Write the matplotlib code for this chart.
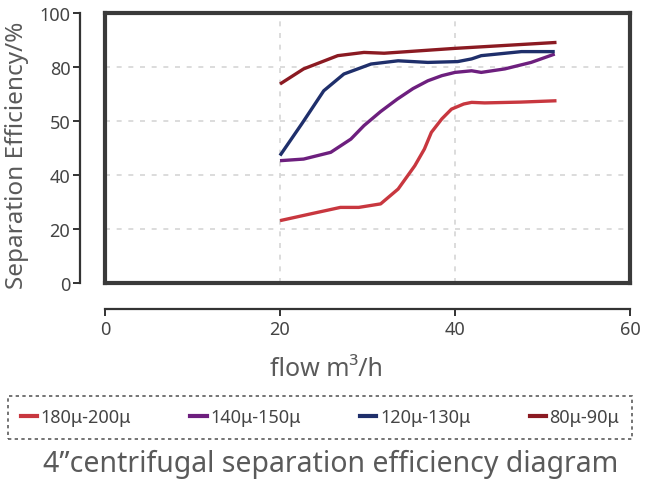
import matplotlib.pyplot as plt
from matplotlib.lines import Line2D

plt.rcParams['font.family'] = ['Noto Sans', 'DejaVu Sans']

# data
flow_red = [20, 23.5, 26.9, 29, 31.5, 33.5, 35.4, 36.5, 37.3, 38.5, 39.6, 41.0, 41.9, 43.4, 47.5, 51.6]
eff_red = [23.1, 25.6, 28.0, 28.0, 29.3, 34.8, 43.4, 49.6, 55.8, 60.8, 64.4, 66.3, 66.9, 66.7, 67.0, 67.5]

flow_purple = [20, 22.7, 25.8, 28.1, 29.6, 31.5, 33.4, 35.2, 36.9, 38.5, 40, 41.9, 43, 45.7, 48.7, 51.4]
eff_purple = [45.3, 45.9, 48.4, 53.3, 58.3, 63.5, 68.1, 72.0, 74.9, 76.8, 78.0, 78.6, 78.0, 79.3, 81.7, 84.8]

flow_navy = [20, 22.5, 25, 27.3, 30.4, 33.5, 36.9, 40.3, 41.9, 43, 47.6, 51.4]
eff_navy = [47.2, 59.0, 71.2, 77.4, 81.1, 82.3, 81.7, 82.0, 83.0, 84.2, 85.7, 85.7]

flow_dred = [20, 22.7, 26.6, 29.6, 31.9, 40, 51.6]
eff_dred = [73.7, 79.3, 84.2, 85.4, 85.1, 86.9, 89.1]

series = [
    ("180μ-200μ", flow_red, eff_red, "#c8373f"),
    ("140μ-150μ", flow_purple, eff_purple, "#6d1f7e"),
    ("120μ-130μ", flow_navy, eff_navy, "#1f2f6b"),
    ("80μ-90μ", flow_dred, eff_dred, "#8b1a22"),
]

y_ticks = [0, 20, 40, 60, 80, 100]
y_ticklabels = ["0", "20", "40", "50", "80", "100"]
x_ticks = [0, 20, 40, 60]

W, H = 646, 485
fig = plt.figure(figsize=(W / 100, H / 100), dpi=100)

# main plotting box
ax = fig.add_axes([105 / W, 1 - 284 / H, 525 / W, 270 / H])
ax.set_xlim(0, 60)
ax.set_ylim(0, 100)
for s in ax.spines.values():
    s.set_linewidth(3)
    s.set_color("#3a3a3a")
ax.set_xticks([20, 40])
ax.set_yticks([20, 40, 60, 80])
ax.tick_params(length=0, labelbottom=False, labelleft=False)
ax.grid(True, color="#d6d6d6", linestyle=(0, (3, 4)), linewidth=1.2)

for name, x, y, c in series:
    ax.plot(x, y, color=c, linewidth=2.4, solid_capstyle="butt", label=name)

text_c = "#5a5a5a"

# detached y axis
ay = fig.add_axes([80 / W, 1 - 284 / H, 0.0001, 270 / H])
ay.set_ylim(0, 100)
for k in ["top", "right", "bottom"]:
    ay.spines[k].set_visible(False)
ay.spines["left"].set_linewidth(1.6)
ay.spines["left"].set_color("#333333")
ay.set_xticks([])
ay.set_yticks(y_ticks)
ay.set_yticklabels(y_ticklabels)
ay.tick_params(axis="y", length=5, width=1.4, color="#333333", labelsize=13,
               labelcolor="#444444", pad=2)
fig.text(17 / W, 1 - 155 / H, "Separation Efficiency/%", fontsize=17.5, color=text_c,
         rotation=90, ha="center", va="center")

# detached x axis
axx = fig.add_axes([105 / W, 1 - 310 / H, 525 / W, 0.0001])
axx.set_xlim(0, 60)
for k in ["top", "right", "left"]:
    axx.spines[k].set_visible(False)
axx.spines["bottom"].set_linewidth(1.6)
axx.spines["bottom"].set_color("#333333")
axx.set_yticks([])
axx.set_xticks(x_ticks)
axx.tick_params(axis="x", length=5, width=1.4, color="#333333", labelsize=13,
                labelcolor="#444444", pad=3)
fig.text(326 / W, 1 - 370 / H, "flow m³/h", fontsize=18, color=text_c,
         ha="center", va="center")

# legend
handles = [Line2D([], [], color=c, linewidth=3) for _, _, _, c in series]
labels = [n for n, _, _, _ in series]
leg = fig.legend(handles, labels, loc="lower left", ncol=4, mode="expand",
                 bbox_to_anchor=(8 / W, 1 - 440 / H, 624 / W, 47 / H),
                 fontsize=13, handlelength=0.9, handletextpad=0.2,
                 frameon=True, fancybox=False, borderaxespad=0, borderpad=0.7)
fr = leg.get_frame()
fr.set_edgecolor("#333333")
fr.set_linewidth(1.2)
fr.set_linestyle((0, (2, 2)))
for t in leg.get_texts():
    t.set_color("#444444")

fig.text(331 / W, 1 - 464 / H, "4”centrifugal separation efficiency diagram",
         fontsize=20.5, color=text_c, ha="center", va="center")

fig.savefig("out.png", dpi=100)
